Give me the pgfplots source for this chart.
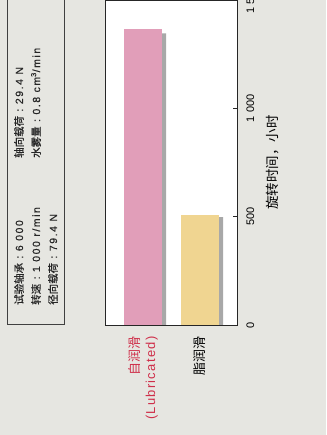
\documentclass[border=0pt]{standalone}
\usepackage{pgfplots}
\pgfplotsset{compat=1.18}
\usepackage{fontspec}
\setmainfont{Liberation Sans}
\newfontfamily\cjk{Noto Sans CJK SC}
\newfontfamily\cjkb[FakeBold=0.6]{Noto Sans CJK SC}
\newfontfamily\lsp[LetterSpace=15,FakeBold=0.5]{Liberation Sans}
\newfontfamily\lspb[LetterSpace=10]{Liberation Sans}
\definecolor{bg}{HTML}{E6E6E1}
\definecolor{pinkbar}{HTML}{E19EB9}
\definecolor{yellowbar}{HTML}{F0D591}
\definecolor{shadowbar}{HTML}{A8A8A8}
\definecolor{lblred}{HTML}{CF2F4A}
\definecolor{framegray}{HTML}{404040}
\begin{document}
\begin{tikzpicture}[x=1bp,y=1bp]
\useasboundingbox (0,0) rectangle (326,435);
\clip (0,0) rectangle (326,435);
\fill[bg] (0,0) rectangle (326,435);
% info box
\draw[framegray, line width=0.9bp] (7,110.5) rectangle (64.5,440);
\begin{scope}[every node/.style={rotate=90, anchor=west, inner sep=0pt, text=black!85, font=\fontsize{10.5}{12}\selectfont}]
\node at (19,130) {\cjkb 试验轴承\lsp\ :\ 6\ 000};
\node at (36,130) {\cjkb 转速\lsp\ :\ 1\ 000 r/min};
\node at (53,130) {\cjkb 径向载荷\lsp\ :\ 79.4 N};
\node at (19,277) {\cjkb 轴向载荷\lsp\ :\ 29.4 N};
\node at (36,277) {\cjkb 水雾量\lsp\ :\ 0.8 cm\textsuperscript{3}/min};
\end{scope}
\begin{axis}[
  at={(105bp,110bp)}, anchor=south west,
  width=132bp, height=325bp, scale only axis,
  xmin=105, xmax=237, ymin=0, ymax=1500,
  axis background/.style={fill=white},
  axis line style={draw=black!85, line width=0.9bp},
  axis on top=true,
  xtick={143,200},
  xticklabels={{\color{lblred}\cjk 自润滑\\\color{lblred}\lspb(Lubricated)},{\cjk 脂润滑}},
  major x tick style={draw=none},
  x tick label style={rotate=90, anchor=east, align=right, font=\fontsize{13}{16}\selectfont},
  xticklabel shift=8bp,
  ytick={0,500,1000,1500},
  ytick pos=right, yticklabel pos=right,
  tick align=inside, major tick length=4bp,
  major y tick style={draw=black!85, line width=0.8bp},
  y tick label style={rotate=90, anchor=north, font=\fontsize{11}{13}\selectfont},
  yticklabel shift=6bp,
  /pgf/number format/1000 sep={\ },
  /pgf/number format/assume math mode=true,
  ylabel={旋转时间，小时},
  every axis y label/.style={at={(axis description cs:1.2727,0.5)}, rotate=90, anchor=center, font=\fontsize{13.5}{16}\selectfont\cjk},
]
\addplot[ybar, bar width=38, bar shift=0pt, fill=shadowbar, draw=none] coordinates {(147,1346) (204,498)};
\addplot[ybar, bar width=38, bar shift=0pt, fill=pinkbar, draw=none] coordinates {(143,1364)};
\addplot[ybar, bar width=38, bar shift=0pt, fill=yellowbar, draw=none] coordinates {(200,507)};
\end{axis}
\end{tikzpicture}
\end{document}
